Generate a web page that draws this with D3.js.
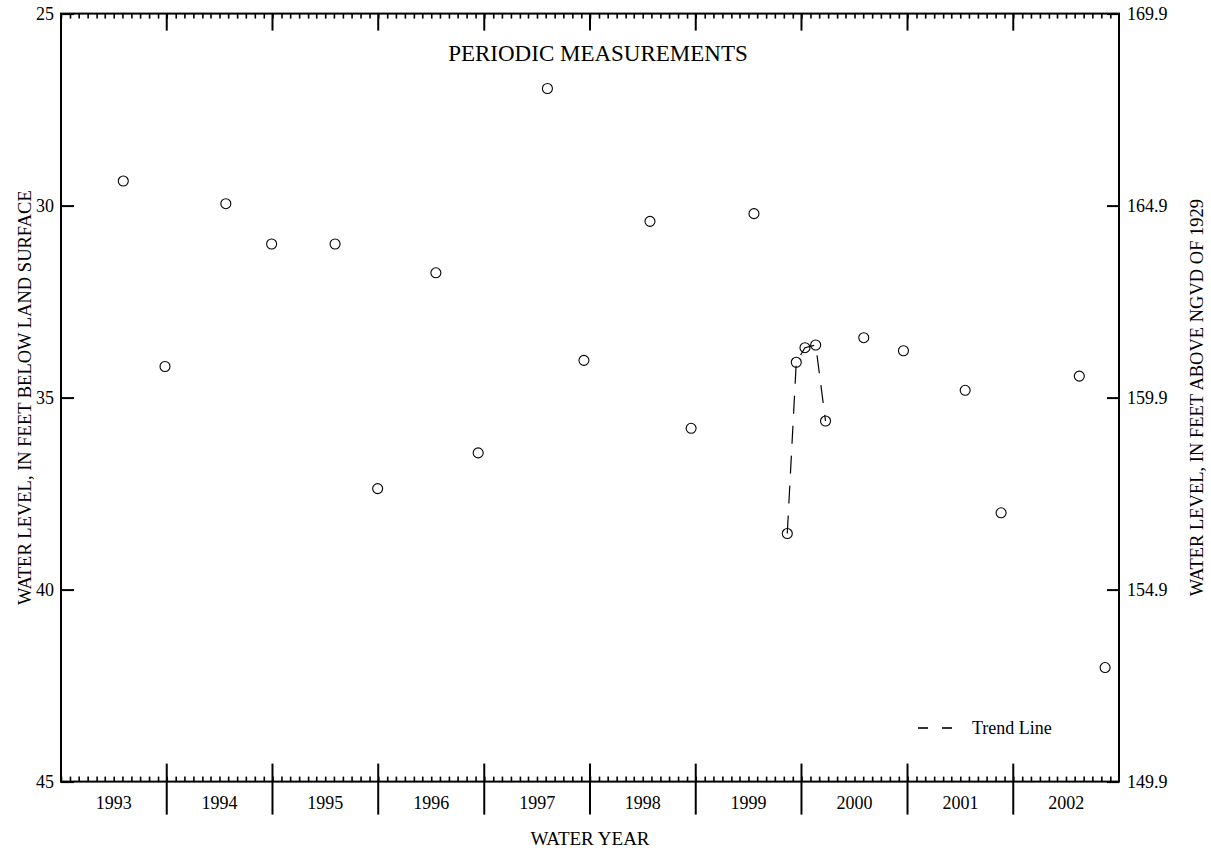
<!DOCTYPE html>
<html>
<head>
<meta charset="utf-8">
<script src="https://cdn.jsdelivr.net/npm/d3@7"></script>
<style>
  html, body { margin: 0; padding: 0; background: #fff; }
  svg { display: block; }
  text { font-family: "Liberation Serif", "DejaVu Serif", serif; fill: #000; }
</style>
</head>
<body>
<svg id="chart" width="1211" height="850"></svg>
<script>
// ---- data ----
const waterYears = [1993, 1994, 1995, 1996, 1997, 1998, 1999, 2000, 2001, 2002];
const measureDates = ["1993-05-04","1993-09-25","1994-04-23","1994-09-28","1995-05-05","1995-09-29",
  "1996-04-17","1996-09-10","1997-05-07","1997-09-10","1998-04-26","1998-09-15","1999-04-20",
  "1999-08-13","1999-09-13","1999-10-13","1999-11-19","1999-12-23","2000-05-03","2000-09-17",
  "2001-04-18","2001-08-20","2002-05-17","2002-08-14"];
const measureDepths = [29.36, 34.19, 29.95, 31.0, 31.0, 37.37, 31.75, 36.44, 26.95, 34.03, 30.41, 35.80,
  30.21, 38.54, 34.08, 33.70, 33.63, 35.61, 33.44, 33.78, 34.81, 38.0, 34.44, 42.03];
const trendDates = ["1999-08-13","1999-09-13","1999-10-13","1999-11-19","1999-12-23"];
const trendDepths = [38.54, 34.08, 33.70, 33.63, 35.61];
const leftTicks = [25, 30, 35, 40, 45];
const rightTicks = [169.9, 164.9, 159.9, 154.9, 149.9];

// ---- layout ----
const L = 61, R = 1119, T = 13.6, B = 781.6;
const FS = 18;
const parse = d3.timeParse("%Y-%m-%d");
const svg = d3.select("#chart");

const x = d3.scaleTime().domain([new Date(1992, 9, 1), new Date(2002, 9, 1)]).range([L, R]);
const y = d3.scaleLinear().domain([25, 45]).range([T, B]);
const yR = d3.scaleLinear().domain([169.9, 149.9]).range([T, B]);

// monthly minor ticks (top & bottom)
const months = d3.timeMonth.range(new Date(1992, 9, 1), new Date(2002, 9, 1));
const gTop = svg.append("g").attr("transform", `translate(0,${T})`)
  .call(d3.axisTop(x).tickValues(months).tickSize(-5).tickFormat(""));
const gBot = svg.append("g").attr("transform", `translate(0,${B})`)
  .call(d3.axisBottom(x).tickValues(months).tickSize(-5).tickFormat(""));
[gTop, gBot].forEach(g => {
  g.select(".domain").remove();
  g.selectAll(".tick line").attr("stroke", "#000").attr("stroke-width", 1.6);
});

// water-year dividers
const bounds = waterYears.slice(1).map(yr => new Date(yr - 1, 9, 1));
svg.append("g").selectAll("line").data(bounds).join("line")
  .attr("x1", d => x(d)).attr("x2", d => x(d))
  .attr("y1", T).attr("y2", T + 17)
  .attr("stroke", "#000").attr("stroke-width", 2);
svg.append("g").selectAll("line").data(bounds).join("line")
  .attr("x1", d => x(d)).attr("x2", d => x(d))
  .attr("y1", B - 18).attr("y2", B + 33)
  .attr("stroke", "#000").attr("stroke-width", 2);

// year labels
svg.append("g").selectAll("text").data(waterYears).join("text")
  .attr("x", yr => (x(new Date(yr - 1, 9, 1)) + x(new Date(yr, 9, 1))) / 2)
  .attr("y", B + 27)
  .attr("text-anchor", "middle")
  .attr("font-size", FS)
  .text(d => d);

// left axis
const gL = svg.append("g").attr("transform", `translate(${L},0)`)
  .call(d3.axisLeft(y).tickValues(leftTicks).tickSize(-13).tickPadding(7).tickFormat(d3.format("d")));
gL.select(".domain").remove();
gL.selectAll(".tick line").attr("stroke", "#000").attr("stroke-width", 2);
gL.selectAll(".tick text").attr("font-size", FS).attr("font-family", "Liberation Serif");

// right axis
const gR = svg.append("g").attr("transform", `translate(${R},0)`)
  .call(d3.axisRight(yR).tickValues(rightTicks).tickSize(-12).tickPadding(8).tickFormat(d3.format(".1f")));
gR.select(".domain").remove();
gR.selectAll(".tick line").attr("stroke", "#000").attr("stroke-width", 2);
gR.selectAll(".tick text").attr("font-size", FS).attr("font-family", "Liberation Serif");

// frame
svg.append("rect").attr("x", L).attr("y", T).attr("width", R - L).attr("height", B - T)
  .attr("fill", "none").attr("stroke", "#000").attr("stroke-width", 2);

// trend line
const line = d3.line().x(d => x(parse(d[0]))).y(d => y(d[1]));
svg.append("path").datum(trendDates.map((d, i) => [d, trendDepths[i]]))
  .attr("d", line).attr("fill", "none").attr("stroke", "#000")
  .attr("stroke-width", 1.2).attr("stroke-dasharray", "18,12");

// measurements
svg.append("g").selectAll("circle").data(measureDates.map((d, i) => [d, measureDepths[i]])).join("circle")
  .attr("cx", d => x(parse(d[0]))).attr("cy", d => y(d[1])).attr("r", 5)
  .attr("fill", "none").attr("stroke", "#000").attr("stroke-width", 1.1);

// title
svg.append("text").attr("x", 598).attr("y", 61).attr("text-anchor", "middle")
  .attr("font-size", 23).text("PERIODIC MEASUREMENTS");

// axis titles
svg.append("text").attr("x", (L + R) / 2).attr("y", 845).attr("text-anchor", "middle")
  .attr("font-size", 19).text("WATER YEAR");
svg.append("text").attr("transform", `translate(31,${(T + B) / 2}) rotate(-90)`)
  .attr("text-anchor", "middle").attr("font-size", 18.5)
  .text("WATER LEVEL, IN FEET BELOW LAND SURFACE");
svg.append("text").attr("transform", `translate(1203,${(T + B) / 2}) rotate(-90)`)
  .attr("text-anchor", "middle").attr("font-size", 18.5)
  .text("WATER LEVEL, IN FEET ABOVE NGVD OF 1929");

// legend
const lg = svg.append("g");
lg.append("line").attr("x1", 918).attr("x2", 928).attr("y1", 728).attr("y2", 728)
  .attr("stroke", "#000").attr("stroke-width", 1.6);
lg.append("line").attr("x1", 942).attr("x2", 952).attr("y1", 728).attr("y2", 728)
  .attr("stroke", "#000").attr("stroke-width", 1.6);
lg.append("text").attr("x", 972).attr("y", 734).attr("font-size", FS).text("Trend Line");
</script>
</body>
</html>
